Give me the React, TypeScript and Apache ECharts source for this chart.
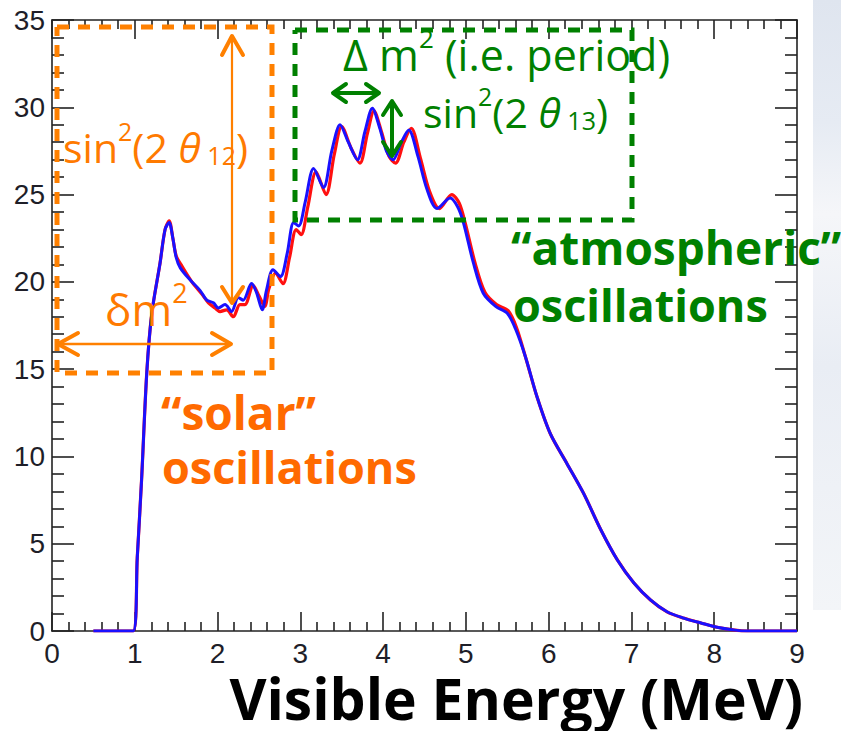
import React, { useEffect, useRef } from "react";
import * as echarts from "echarts";

// Visible energy (MeV) sample points, blue curve
const blueEnergy = [
  0.5, 0.98, 1.03, 1.082, 1.145, 1.206, 1.306, 1.366, 1.415, 1.46, 1.5, 1.55, 1.67, 1.79, 1.87, 1.95, 2.01, 2.09,
  2.17, 2.25, 2.31, 2.41, 2.47, 2.54, 2.59, 2.67, 2.76, 2.84, 2.92, 2.98, 3.06, 3.16, 3.28, 3.38, 3.48, 3.58,
  3.69, 3.78, 3.87, 3.96, 4.04, 4.12, 4.22, 4.31, 4.42, 4.53, 4.65, 4.81, 4.9, 4.97, 5.09, 5.21, 5.36, 5.5,
  5.6, 5.72, 5.86, 6.02, 6.22, 6.42, 6.63, 6.83, 7.03, 7.23, 7.43, 7.63, 7.84, 8.05, 8.25, 8.4, 9.0,
];
const blueCounts = [
  0, 0, 4.2, 8.65, 14.8, 18.2, 21.1, 23.0, 23.4, 22.5, 21.4, 20.8, 20.1, 19.5, 18.95, 18.8, 18.5, 18.7,
  18.3, 19.1, 18.95, 19.9, 19.4, 18.4, 19.5, 20.7, 20.3, 21.6, 23.4, 23.2, 24.6, 26.5, 25.4, 27.5, 29.0, 28.0,
  27.0, 28.6, 29.95, 28.8, 27.5, 27.0, 28.0, 28.7, 27.2, 25.3, 24.2, 24.8, 24.3, 23.4, 21.1, 19.35, 18.6, 18.2,
  17.3, 15.7, 13.4, 11.3, 9.6, 7.9, 5.8, 4.07, 2.75, 1.78, 1.1, 0.74, 0.46, 0.2, 0.05, 0, 0,
];

// Red curve sample points
const redEnergy = [
  0.5, 0.98, 1.03, 1.082, 1.145, 1.206, 1.306, 1.366, 1.415, 1.46, 1.5, 1.57, 1.69, 1.81, 1.89, 1.97, 2.03, 2.11,
  2.19, 2.27, 2.33, 2.43, 2.5, 2.57, 2.62, 2.7, 2.79, 2.87, 2.95, 3.01, 3.09, 3.19, 3.31, 3.41, 3.5, 3.61,
  3.72, 3.81, 3.89, 3.98, 4.07, 4.15, 4.25, 4.34, 4.45, 4.56, 4.68, 4.83, 4.92, 4.99, 5.11, 5.23, 5.37, 5.51,
  5.61, 5.72, 5.86, 6.02, 6.22, 6.42, 6.63, 6.83, 7.03, 7.23, 7.43, 7.63, 7.84, 8.05, 8.25, 8.4, 9.0,
];
const redCounts = [
  0, 0, 4.2, 8.65, 14.8, 18.2, 21.1, 23.0, 23.5, 22.5, 21.5, 20.9, 20.0, 19.3, 18.8, 18.5, 18.3, 18.4,
  18.0, 18.7, 18.7, 19.8, 19.2, 18.6, 19.6, 20.5, 19.9, 21.4, 23.0, 22.7, 24.3, 26.3, 25.0, 27.3, 28.9, 27.7,
  26.8, 28.5, 29.8, 28.6, 27.2, 26.8, 28.0, 28.8, 27.1, 25.2, 24.2, 25.0, 24.5, 23.4, 21.1, 19.4, 18.7, 18.35,
  17.4, 15.7, 13.4, 11.3, 9.6, 7.9, 5.8, 4.07, 2.75, 1.78, 1.1, 0.74, 0.46, 0.2, 0.05, 0, 0,
];

const xTicks = [0, 1, 2, 3, 4, 5, 6, 7, 8, 9];
const yTicks = [0, 5, 10, 15, 20, 25, 30, 35];

const ORANGE = "#ff8000";
const ORANGE_TXT = "#ff7a00";
const ORANGE_BOLD = "#ff6a00";
const GREEN = "#008000";
const AXIS = "#222222";
const ANNOT_FONT = "Open Sans";

export default function App() {
  const ref = useRef<HTMLDivElement>(null);

  useEffect(() => {
    document.body.style.margin = "0";
    const chart = echarts.init(ref.current!, null, { renderer: "svg" });

    const tickCommon = (len: number, minorLen: number) => ({
      axisLine: { show: true, onZero: false, lineStyle: { color: AXIS, width: 1.6 } },
      axisTick: { show: true, inside: true, length: len, lineStyle: { color: AXIS, width: 1.6 } },
      minorTick: { show: true, splitNumber: 5, length: minorLen, lineStyle: { color: AXIS, width: 1.6 } },
      splitLine: { show: false },
    });

    const xCommon = {
      type: "value",
      min: xTicks[0],
      max: xTicks[xTicks.length - 1],
      interval: 1,
      ...tickCommon(19, 9),
    };
    const yCommon = {
      type: "value",
      min: yTicks[0],
      max: yTicks[yTicks.length - 1],
      interval: 5,
      ...tickCommon(22, 12),
    };

    const labelStyle = { fontFamily: "Liberation Sans", fontSize: 28, color: "#1e1e28" };

    const dashed = (pts: number[][], color: string) => ({
      type: "polyline",
      shape: { points: pts },
      style: { stroke: color, lineWidth: 5, lineDash: [12, 9], fill: null },
      z: 10,
    });
    const line = (x1: number, y1: number, x2: number, y2: number, color: string, w: number) => ({
      type: "line",
      shape: { x1, y1, x2, y2 },
      style: { stroke: color, lineWidth: w },
      z: 10,
    });
    const head = (pts: number[][], color: string, w: number) => ({
      type: "polyline",
      shape: { points: pts },
      style: { stroke: color, lineWidth: w, fill: null, lineCap: "round", lineJoin: "round" },
      z: 10,
    });

    const formula = (
      x: number,
      y: number,
      text: string,
      color: string,
      size: number,
      supSize: number
    ) => ({
      type: "text",
      x,
      y,
      z: 11,
      style: {
        text,
        verticalAlign: "bottom",
        rich: {
          a: { fontFamily: ANNOT_FONT, fontSize: size, fill: color, lineHeight: size + 8, verticalAlign: "bottom" },
          s: { fontFamily: ANNOT_FONT, fontSize: supSize, fill: color, lineHeight: 36, verticalAlign: "top" },
          t: {
            fontFamily: ANNOT_FONT,
            fontSize: size,
            fontStyle: "italic",
            fill: color,
            lineHeight: size + 8,
            verticalAlign: "bottom",
          },
          b: { fontFamily: ANNOT_FONT, fontSize: supSize, fill: color, lineHeight: 30, verticalAlign: "bottom" },
        },
      },
    });

    const bold = (x: number, y: number, text: string, color: string, size: number, align = "left") => ({
      type: "text",
      x,
      y,
      z: 11,
      style: {
        text,
        fontFamily: ANNOT_FONT,
        fontWeight: "bold",
        fontSize: size,
        lineHeight: Math.round(size * 0.78),
        fill: color,
        align,
        verticalAlign: "middle",
      },
    });

    chart.setOption({
      animation: false,
      backgroundColor: "#ffffff",
      grid: { left: 52, right: 44, top: 20, bottom: 100, containLabel: false },
      xAxis: [
        {
          ...xCommon,
          position: "bottom",
          axisLabel: { ...labelStyle, margin: 8 },
        },
        { ...xCommon, position: "top", axisLabel: { show: false } },
      ],
      yAxis: [
        {
          ...yCommon,
          position: "left",
          axisLabel: { ...labelStyle, margin: 7 },
        },
        { ...yCommon, position: "right", axisLabel: { show: false } },
      ],
      series: [
        {
          type: "line",
          name: "red",
          data: redEnergy.map((e, i) => [e, redCounts[i]]),
          showSymbol: false,
          smooth: 0.3,
          lineStyle: { color: "#ff1010", width: 3.2 },
          z: 2,
        },
        {
          type: "line",
          name: "blue",
          data: blueEnergy.map((e, i) => [e, blueCounts[i]]),
          showSymbol: false,
          smooth: 0.3,
          lineStyle: { color: "#1a10ff", width: 3 },
          z: 3,
        },
      ],
      graphic: [
        // light slide background on the right edge
        {
          type: "rect",
          shape: { x: 813, y: 0, width: 28, height: 610 },
          style: {
            fill: {
              type: "linear", x: 0, y: 0, x2: 0, y2: 1,
              colorStops: [
                { offset: 0, color: "#dfe5ef" },
                { offset: 0.2, color: "#e6ebf3" },
                { offset: 0.35, color: "#f5f6f9" },
                { offset: 0.6, color: "#e9edf4" },
                { offset: 1, color: "#f3f5f8" },
              ],
            },
          },
          z: -1,
        },
        // orange dashed box
        dashed([[57, 27], [272, 27], [272, 373], [57, 373], [57, 27]], ORANGE),
        // green dashed box
        dashed([[295, 30], [632, 30], [632, 220], [295, 220], [295, 30]], GREEN),
        // orange vertical arrow
        line(232, 37, 232, 301, ORANGE, 2.2),
        head([[222, 55], [232, 36], [243, 55]], ORANGE, 4),
        head([[222, 287], [232, 303], [243, 287]], ORANGE, 4),
        // orange horizontal arrow
        line(59, 344, 230, 344, ORANGE, 2.5),
        head([[78, 333], [58, 344], [78, 355]], ORANGE, 4),
        head([[212, 333], [231, 344], [212, 355]], ORANGE, 4),
        // green horizontal arrow
        line(334, 93, 378, 93, GREEN, 4),
        head([[346, 84], [333, 93], [346, 102]], GREEN, 4),
        head([[366, 84], [379, 93], [366, 102]], GREEN, 4),
        // green vertical arrow
        line(392, 102, 392, 155, GREEN, 4),
        head([[383, 115], [392, 101], [401, 115]], GREEN, 4),
        head([[383, 142], [392, 156], [401, 142]], GREEN, 4),
        // formula texts
        formula(63, 167, "{a|sin}{s|2}{a|(2}{t| θ}{b| 12}{a|)}", ORANGE_TXT, 41, 25),
        formula(105, 331, "{a|δm}{s|2}", ORANGE_TXT, 44, 27),
        formula(343, 76, "{a|Δ m}{s|2}{a| (i.e. period)}", GREEN, 43, 26),
        formula(423, 132, "{a|sin}{s|2}{a|(2}{t| θ}{b| 13}{a|)}", GREEN, 41, 25),
        // bold captions
        bold(161, 412, "“solar”", ORANGE_BOLD, 46),
        bold(162, 466, "oscillations", ORANGE_BOLD, 45),
        bold(511, 247, "“atmospheric”", GREEN, 46),
        bold(513, 304, "oscillations", GREEN, 45),
        bold(803, 698, "Visible Energy (MeV)", "#000000", 57, "right"),
      ],
    });

    return () => chart.dispose();
  }, []);

  return <div ref={ref} style={{ width: 841, height: 731 }} />;
}
